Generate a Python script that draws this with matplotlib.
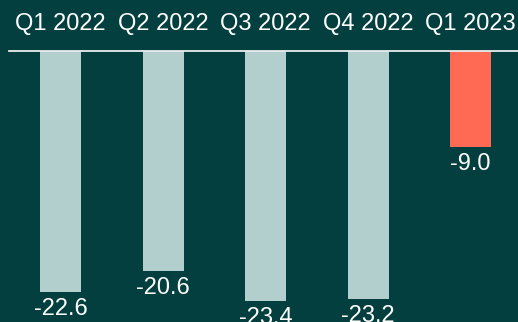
import matplotlib.pyplot as plt

quarters = ['Q1 2022', 'Q2 2022', 'Q3 2022', 'Q4 2022', 'Q1 2023']
values = [-22.6, -20.6, -23.4, -23.2, -9.0]
colors = ['#b2cfce', '#b2cfce', '#b2cfce', '#b2cfce', '#ff6a55']

bg = '#033f3e'
plt.rcParams['font.family'] = ['Liberation Sans', 'DejaVu Sans']

fig = plt.figure(figsize=(5.18, 3.22), dpi=100, facecolor=bg)
ax = fig.add_axes([0, 0, 1, 1])
ax.set_facecolor(bg)

x = list(range(len(quarters)))
ax.bar(x, values, width=0.4, color=colors, zorder=2)

# scale: 102.5 px per category, ~10.67 px per unit
ax.set_xlim(-60.5 / 102.5, (518 - 60.5) / 102.5)
px = 1 / 10.67
ax.set_ylim(-(322 - 51) * px, 51 * px)

ax.axhline(0, xmin=9 / 518, xmax=1, color='#e8eeee', lw=1.3, zorder=3)

for xi, q, v in zip(x, quarters, values):
    ax.text(xi, 27 * px, q, ha='center', va='center', color='white', fontsize=17)
    ax.text(xi, v - 6 * px, f'{v:.1f}', ha='center', va='top', color='white', fontsize=17)

ax.axis('off')
fig.savefig('out.png', dpi=100, facecolor=bg)
